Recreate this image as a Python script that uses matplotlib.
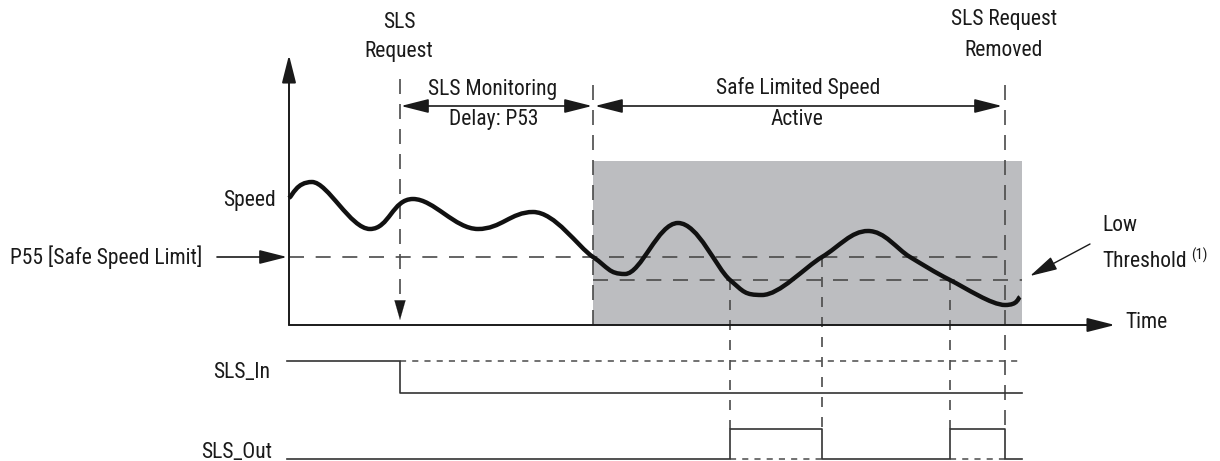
import matplotlib
matplotlib.use("Agg")
import matplotlib.pyplot as plt
from matplotlib import font_manager as fm
from matplotlib.path import Path
from matplotlib.patches import PathPatch, Rectangle
import numpy as np

# ---- pick a condensed sans font if one is installed ----
_fonts = fm.fontManager.ttflist
_names = {f.name for f in _fonts}
FAMILY, STRETCH, FS = 'Roboto', 'normal', 14.5
for cand in ['Liberation Sans Narrow', 'Roboto Condensed', 'Noto Sans Condensed',
             'Open Sans Condensed', 'DejaVu Sans Condensed', 'Arial Narrow']:
    if cand in _names:
        FAMILY, STRETCH, FS = cand, 'normal', 15.5
        break
else:
    for f in _fonts:
        if str(f.stretch) in ('condensed', 'semi-condensed') and f.style == 'normal' \
                and str(f.weight) in ('400', 'normal', 'regular'):
            FAMILY, STRETCH, FS = f.name, f.stretch, 15
            break
plt.rcParams['font.family'] = [FAMILY, 'DejaVu Sans']

# ---- data (diagram units = pixels of the reference, y grows downward) ----
speed_x = [289, 312, 370, 413, 478, 533, 593, 625, 678, 730, 762, 822, 868, 910, 950, 1005, 1020]
speed_y = [198, 182, 229, 199, 229, 212, 257, 274, 223, 280, 295, 257, 231, 257, 280, 305, 297]

safe_speed_limit_y = 257
low_threshold_y = 280
t_request = 400
t_active = 593
t_removed = 1005
t_below_low = [730, 950]
t_above_limit = [822]

sls_in_t = [287, 400, 400, 1022]
sls_in_level = [361, 361, 393, 393]
sls_out_t = [287, 730, 730, 822, 822, 950, 950, 1005, 1005, 1022]
sls_out_level = [459, 459, 429, 429, 459, 459, 429, 429, 459, 459]

axis_origin = (289, 325)
axis_top = 55
axis_right = 1115
active_box = (593, 161, 1022, 325)

INK = '#1a1a1a'
GREY = '#4a4a4a'

fig = plt.figure(figsize=(12.2, 4.61), dpi=100)
ax = fig.add_axes([0, 0, 1, 1])
ax.set_xlim(0, 1220)
ax.set_ylim(461, 0)
ax.axis('off')

ax.add_patch(Rectangle((active_box[0], active_box[1]), active_box[2] - active_box[0],
                       active_box[3] - active_box[1], facecolor='#bcbdc0', edgecolor='none', zorder=0))

def arrow(x0, y0, x1, y1, style='-|>', lw=1.3, hl=17, hw=4.3, color=INK, z=3):
    ax.annotate('', xy=(x1, y1), xytext=(x0, y0),
                arrowprops=dict(arrowstyle=f'{style},head_length={hl},head_width={hw}',
                                mutation_scale=1, lw=lw, color=color,
                                shrinkA=0, shrinkB=0), zorder=z)

# axes
arrow(axis_origin[0], axis_origin[1], axis_origin[0], axis_top, lw=1.4)
arrow(axis_origin[0], axis_origin[1], axis_right, axis_origin[1], lw=1.4)

# threshold lines
ax.plot([289, 1008], [safe_speed_limit_y] * 2, color=GREY, lw=1.2, dashes=(9, 7), zorder=2)
ax.plot([t_active, 1022], [low_threshold_y] * 2, color=GREY, lw=1.2, dashes=(9, 7), zorder=2)

# vertical event lines
ax.plot([t_request, t_request], [79, 302], color=GREY, lw=1.2, dashes=(9, 6), zorder=2)
arrow(t_request, 302, t_request, 320, lw=0.1, hl=14, hw=4.0)
ax.plot([t_active, t_active], [85, 325], color=GREY, lw=1.2, dashes=(9, 6), zorder=2)
ax.plot([t_removed, t_removed], [85, 429], color=GREY, lw=1.2, dashes=(9, 6), zorder=2)
for t in t_below_low:
    ax.plot([t, t], [low_threshold_y, 429], color=GREY, lw=1.2, dashes=(6, 6), zorder=2)
for t in t_above_limit:
    ax.plot([t, t], [safe_speed_limit_y, 429], color=GREY, lw=1.2, dashes=(6, 6), zorder=2)

# interval arrows
arrow(t_request + 1, 106, t_active - 1, 106, style='<|-|>', lw=1.2)
arrow(t_active + 2, 106, t_removed - 3, 106, style='<|-|>', lw=1.2)

# speed curve: smooth Bezier path through the read points, flat at peaks/troughs
P = np.column_stack([speed_x, speed_y]).astype(float)
n = len(P)
tang = np.zeros_like(P)
for i in range(n):
    a = P[max(i - 1, 0)]
    b = P[min(i + 1, n - 1)]
    tang[i] = (b - a) / 2.0
    if 0 < i < n - 1:
        if (P[i, 1] - a[1]) * (P[i, 1] - b[1]) > 0:   # local extremum
            tang[i, 1] = 0.0
            tang[i, 0] *= 1.15
verts = [tuple(P[0])]
codes = [Path.MOVETO]
for i in range(n - 1):
    c1 = P[i] + tang[i] / 3.0
    c2 = P[i + 1] - tang[i + 1] / 3.0
    verts += [tuple(c1), tuple(c2), tuple(P[i + 1])]
    codes += [Path.CURVE4] * 3
ax.add_patch(PathPatch(Path(verts, codes), facecolor='none', edgecolor='#111111',
                       lw=3.2, capstyle='butt', joinstyle='round', zorder=4))

# signals
ax.plot([400, 1018], [361, 361], color=GREY, lw=1.1, dashes=(4, 4), zorder=2)
ax.plot(sls_in_t, sls_in_level, color='#333333', lw=1.2, zorder=3)
ax.plot([730, 822], [459, 459], color=GREY, lw=1.1, dashes=(4, 4), zorder=2)
ax.plot([950, 1005], [459, 459], color=GREY, lw=1.1, dashes=(4, 4), zorder=2)
ax.plot(sls_out_t, sls_out_level, color='#333333', lw=1.2, zorder=3)

# pointer arrows
arrow(217, safe_speed_limit_y, 287, safe_speed_limit_y, lw=1.2)
arrow(1090, 244, 1030, 276, lw=1.0)

def txt(x, y, s, ha='center', size=None):
    return ax.text(x, y, s, ha=ha, va='center', fontsize=size or FS, color=INK,
                   fontstretch=STRETCH)

txt(399, 22, 'SLS')
txt(399, 52, 'Request')
txt(493, 89, 'SLS Monitoring')
txt(494, 119, 'Delay: P53')
txt(798, 88, 'Safe Limited Speed')
txt(797, 119, 'Active')
txt(1004, 20, 'SLS Request')
txt(1004, 50, 'Removed')
txt(276, 200, 'Speed', ha='right')
txt(10, 257, 'P55 [Safe Speed Limit]', ha='left')
txt(1102, 225, 'Low', ha='left')
thr = txt(1102, 261, 'Threshold', ha='left')
ax.annotate('(1)', xy=(1, 0.78), xycoords=thr, xytext=(3, 0), textcoords='offset points',
            ha='left', va='center', fontsize=FS * 0.68, color=INK, fontstretch=STRETCH)
txt(1125, 322, 'Time', ha='left')
txt(270, 372, 'SLS_In', ha='right')
txt(272, 452, 'SLS_Out', ha='right')

fig.savefig('out.png', dpi=100)
